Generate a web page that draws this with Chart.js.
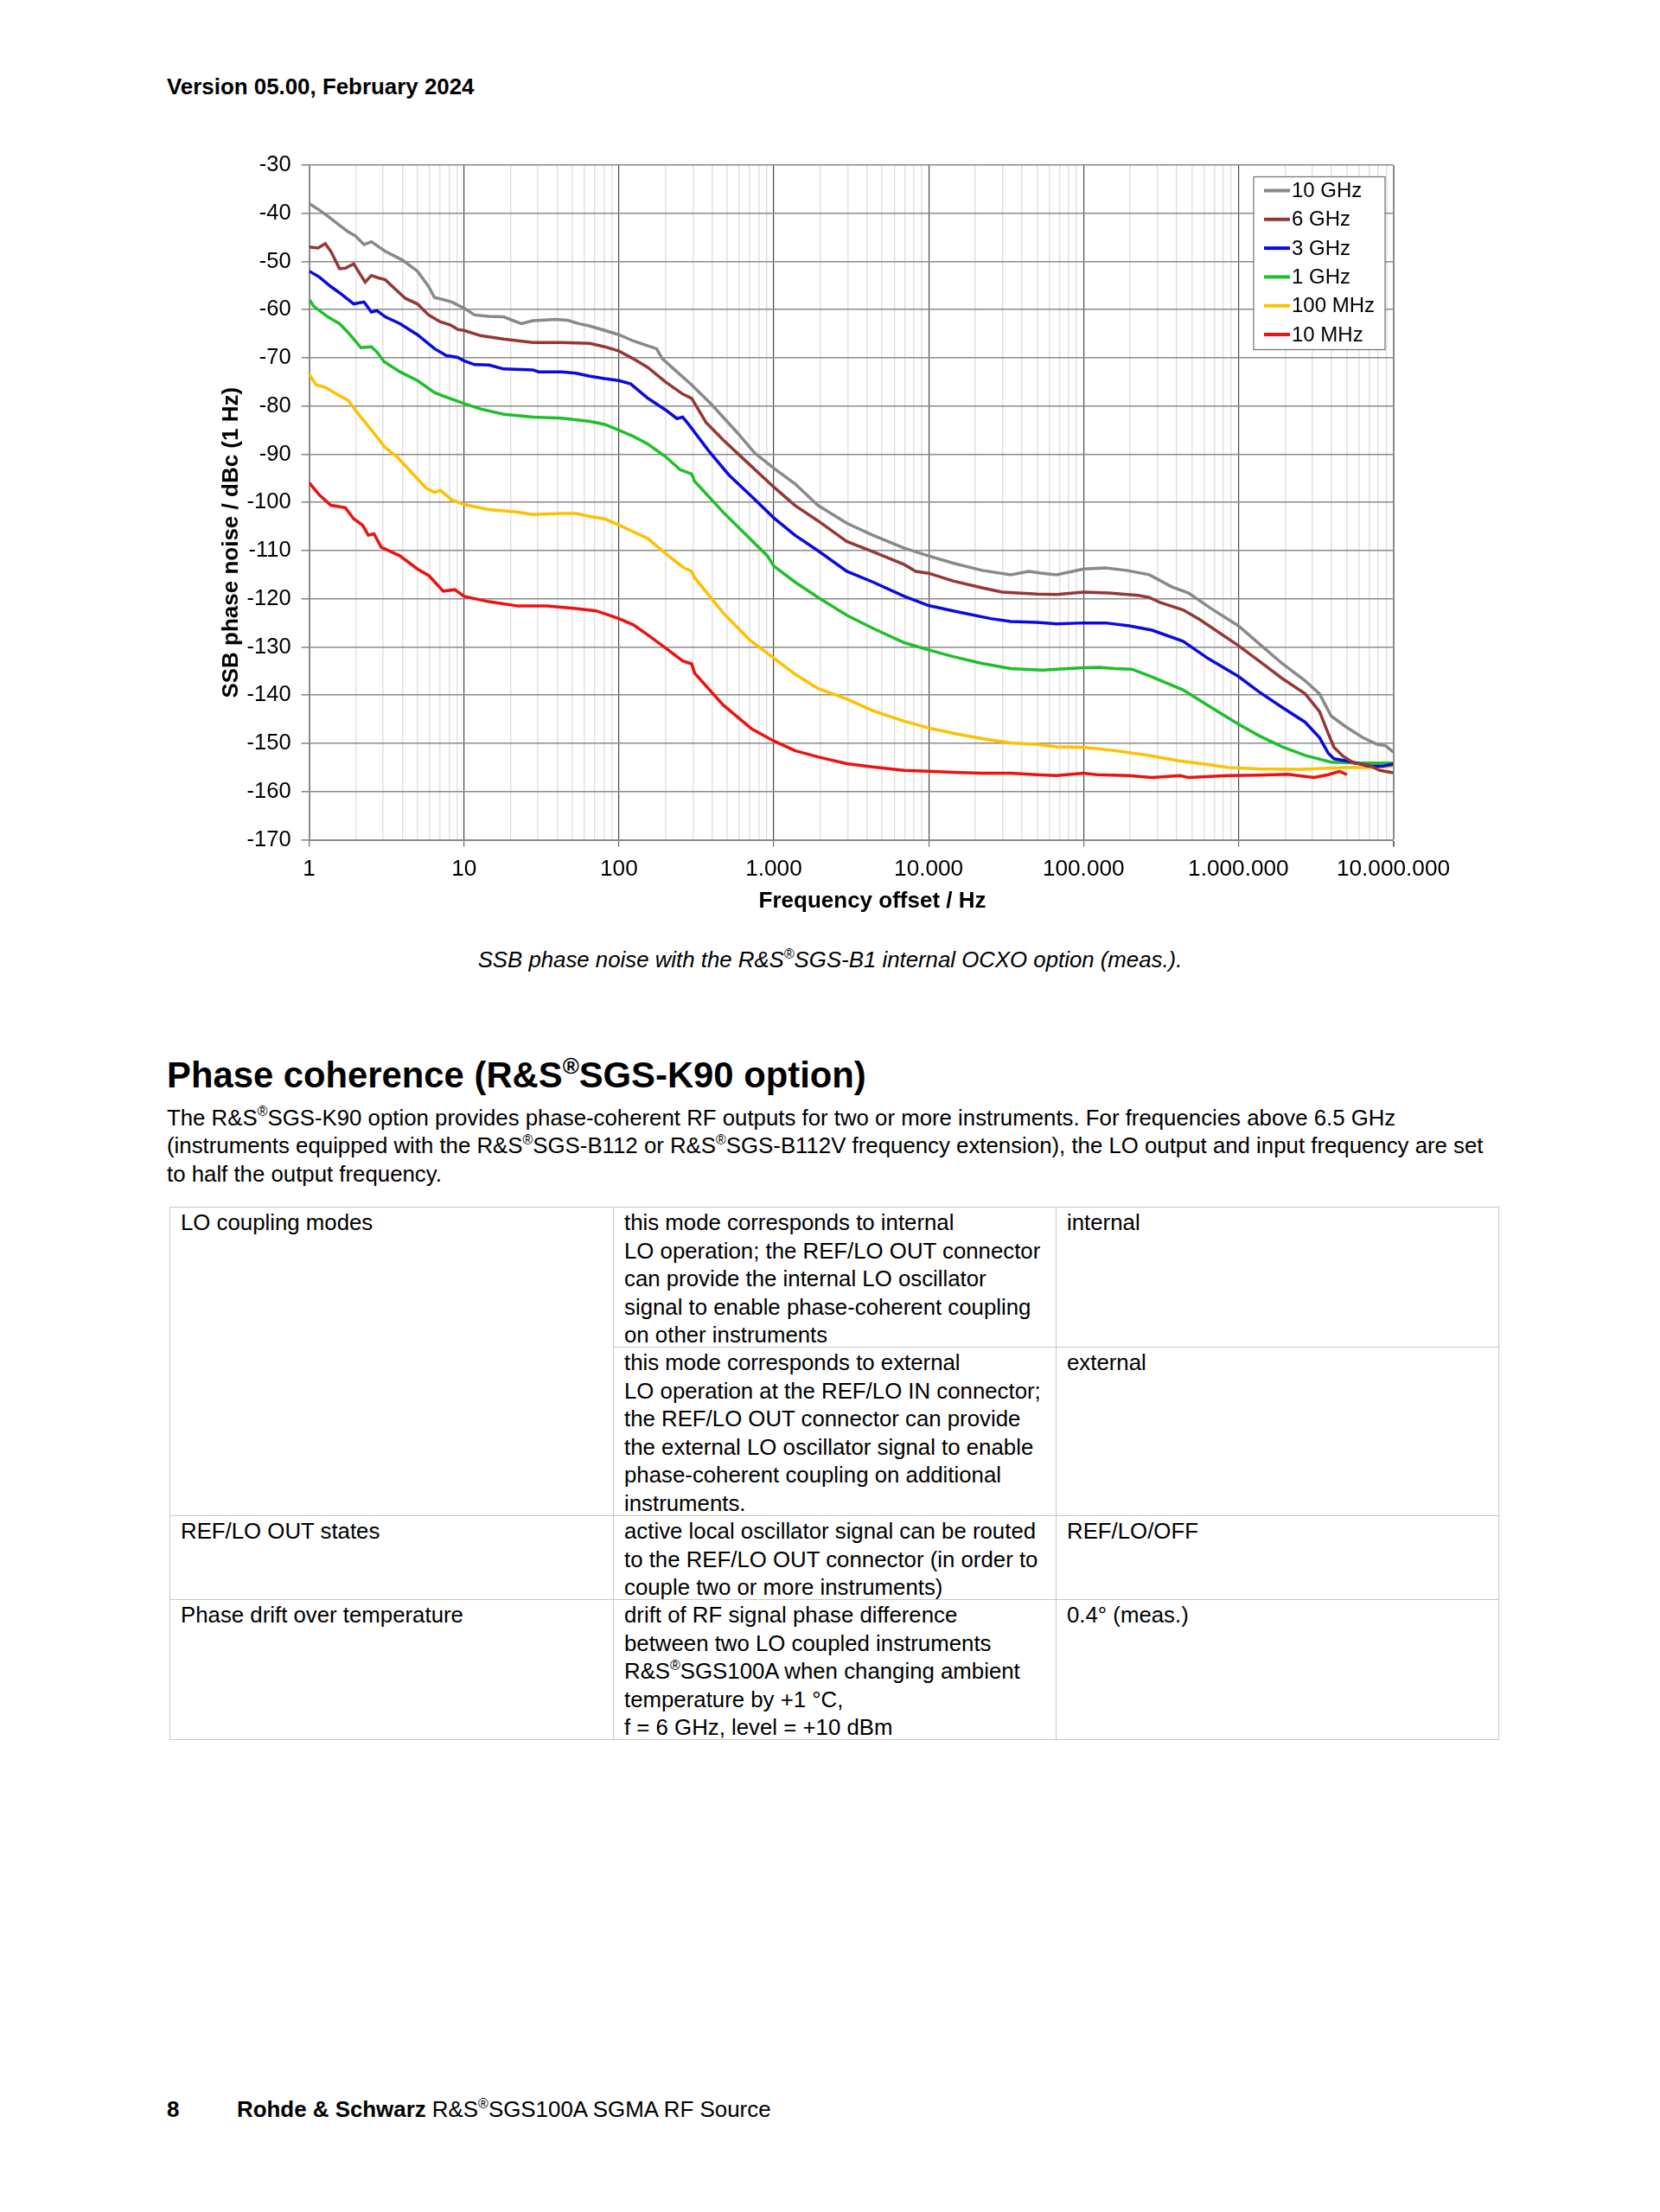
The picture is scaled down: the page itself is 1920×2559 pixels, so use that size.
<!DOCTYPE html>
<html>
<head>
<meta charset="utf-8">
<script src="https://cdn.jsdelivr.net/npm/chart.js@4.4.1/dist/chart.umd.min.js"></script>
<style>
html,body{margin:0;padding:0;background:#fff;}
body{width:1920px;height:2559px;position:relative;font-family:"Liberation Sans",Arial,sans-serif;color:#000;overflow:hidden;}
.abs{position:absolute;white-space:nowrap;}
sup{font-size:0.62em;line-height:0;position:relative;top:-0.05em;vertical-align:super;}
#chartBox{position:absolute;left:230px;top:150px;width:1470px;height:920px;}
.tbl{position:absolute;left:196px;top:1396px;width:1538px;height:617px;border-top:1px solid #c8c8c8;border-left:1px solid #c8c8c8;box-sizing:border-box;}
.cell{position:absolute;box-sizing:border-box;border-right:1px solid #c8c8c8;border-bottom:1px solid #c8c8c8;padding:1px 0 0 12px;font-size:25.8px;line-height:32.6px;white-space:nowrap;}
</style>
</head>
<body>
<div class="abs" style="left:193px;top:87.5px;font-size:25.9px;line-height:25.9px;font-weight:bold;">Version 05.00, February 2024</div>

<div id="chartBox"><canvas id="c"></canvas></div>

<div class="abs" style="left:0;width:1920px;text-align:center;top:1098px;font-size:25.8px;line-height:25.8px;font-style:italic;">SSB phase noise with the R&amp;S<sup>®</sup>SGS-B1 internal OCXO option (meas.).</div>

<div class="abs" style="left:193px;top:1223px;font-size:41.8px;line-height:41.8px;font-weight:bold;">Phase coherence (R&amp;S<sup>®</sup>SGS-K90 option)</div>

<div class="abs" style="left:193px;top:1276.5px;font-size:25.8px;line-height:32.6px;">The R&amp;S<sup>®</sup>SGS-K90 option provides phase-coherent RF outputs for two or more instruments. For frequencies above 6.5 GHz<br>(instruments equipped with the R&amp;S<sup>®</sup>SGS-B112 or R&amp;S<sup>®</sup>SGS-B112V frequency extension), the LO output and input frequency are set<br>to half the output frequency.</div>

<div class="tbl">
  <div class="cell" style="left:0;top:0;width:513px;height:357px;">LO coupling modes</div>
  <div class="cell" style="left:513px;top:0;width:512px;height:162px;">this mode corresponds to internal<br>LO operation; the REF/LO OUT connector<br>can provide the internal LO oscillator<br>signal to enable phase-coherent coupling<br>on other instruments</div>
  <div class="cell" style="left:1025px;top:0;width:512px;height:162px;">internal</div>
  <div class="cell" style="left:513px;top:162px;width:512px;height:195px;">this mode corresponds to external<br>LO operation at the REF/LO IN connector;<br>the REF/LO OUT connector can provide<br>the external LO oscillator signal to enable<br>phase-coherent coupling on additional<br>instruments.</div>
  <div class="cell" style="left:1025px;top:162px;width:512px;height:195px;">external</div>
  <div class="cell" style="left:0;top:357px;width:513px;height:97px;">REF/LO OUT states</div>
  <div class="cell" style="left:513px;top:357px;width:512px;height:97px;">active local oscillator signal can be routed<br>to the REF/LO OUT connector (in order to<br>couple two or more instruments)</div>
  <div class="cell" style="left:1025px;top:357px;width:512px;height:97px;">REF/LO/OFF</div>
  <div class="cell" style="left:0;top:454px;width:513px;height:162px;">Phase drift over temperature</div>
  <div class="cell" style="left:513px;top:454px;width:512px;height:162px;">drift of RF signal phase difference<br>between two LO coupled instruments<br>R&amp;S<sup>®</sup>SGS100A when changing ambient<br>temperature by +1 °C,<br>f = 6 GHz, level = +10 dBm</div>
  <div class="cell" style="left:1025px;top:454px;width:512px;height:162px;">0.4° (meas.)</div>
</div>

<div class="abs" style="left:193px;top:2428px;font-size:25.9px;line-height:25.9px;font-weight:bold;">8</div>
<div class="abs" style="left:274px;top:2428px;font-size:25.9px;line-height:25.9px;"><b>Rohde &amp; Schwarz</b> R&amp;S<sup>®</sup>SGS100A SGMA RF Source</div>

<script>
// ---------- data ----------
const seriesLabels = ['10 GHz','6 GHz','3 GHz','1 GHz','100 MHz','10 MHz'];
const seriesColors = ['#898989','#953735','#0a0ae0','#1fbf2a','#ffc000','#ee1111'];

const xTickLabels = ['1','10','100','1.000','10.000','100.000','1.000.000','10.000.000'];
const xMajorTicks = [1,10,100,1000,10000,100000,1000000,10000000];
const xMinorSteps = [2,3,4,5,6,7,8,9];
const yMin = -170, yMax = -30, yStep = 10;

const freq10G = [1,1.16,1.32,1.57,1.78,1.99,2.26,2.52,3.1,4.0,5.0,5.9,6.45,7.3,8.35,10,11.7,14.5,18,23.4,27.8,39,46.5,55,65,81,100,124,154,175,191,237,295,397,584,751,1000,1368,1926,2960,4350,6960,10000,14400,22100,33900,44200,54400,67000,100000,139000,189000,266000,371000,477000,665000,1000000,1359000,1914000,2697000,3340000,3970000,4910000,6350000,7870000,8950000,10000000];
const val10G  = [-38,-39.3,-40.6,-42.5,-43.8,-44.7,-46.5,-45.9,-47.9,-49.7,-52,-55.2,-57.5,-57.9,-58.4,-59.7,-61.1,-61.4,-61.5,-62.9,-62.3,-62,-62.2,-62.9,-63.4,-64.3,-65.2,-66.5,-67.5,-68.1,-70.2,-72.9,-75.6,-79.7,-85.6,-89.7,-92.9,-96.1,-100.6,-104.3,-106.8,-109.5,-111.1,-112.6,-114.1,-115,-114.3,-114.7,-115,-113.8,-113.6,-114.1,-115,-117.5,-118.8,-122,-125.6,-129.3,-133.4,-137,-139.7,-144.3,-146.5,-148.8,-150.2,-150.5,-151.8];

const freq6G = [1,1.14,1.27,1.38,1.57,1.71,1.94,2.12,2.3,2.52,2.8,3.1,3.7,4.2,5.0,5.9,7.0,8.2,9.1,10,12.8,18,27.8,42.7,65,81,100,124,154,200,258,295,365,470,664,1000,1368,1926,2960,4350,6960,8260,10000,14400,22100,29800,50000,67000,100000,145000,225000,266000,314000,439000,563000,1000000,1359000,1914000,2697000,3340000,3800000,4140000,4710000,5580000,6920000,8210000,10000000];
const val6G  = [-47,-47.2,-46.3,-47.9,-51.5,-51.4,-50.5,-52.5,-54.3,-52.9,-53.4,-53.8,-56.1,-57.7,-58.8,-61.1,-62.5,-63.2,-64.1,-64.3,-65.4,-66.1,-66.8,-66.8,-67,-67.7,-68.6,-70.2,-72,-75,-77.5,-78.4,-83.4,-87,-91.5,-96.8,-100.6,-103.8,-108.1,-110.2,-112.9,-114.3,-114.7,-116.3,-117.7,-118.6,-119,-119.1,-118.6,-118.8,-119.3,-119.7,-120.8,-122.3,-124.3,-129.7,-132.9,-136.5,-139.7,-143.4,-147.9,-150.8,-152.6,-154.1,-154.5,-155.6,-156.1];

const freq3G = [1,1.16,1.38,1.57,1.94,2.26,2.52,2.74,3.1,3.86,5.0,6.45,7.67,9.1,10,11.7,14.5,18,27.8,30.3,42.7,52.8,65,81,100,119,154,200,237,258,282,380,513,721,1000,1368,1926,2960,4350,6960,10000,14400,25100,33900,50000,67000,100000,139000,197000,277000,439000,638000,1000000,1359000,1914000,2697000,3340000,3800000,4140000,5350000,6920000,8570000,10000000];
const val3G  = [-52,-53.2,-55.2,-56.5,-58.8,-58.4,-60.5,-60.2,-61.5,-62.9,-65.2,-68.1,-69.5,-69.9,-70.6,-71.4,-71.5,-72.3,-72.5,-72.9,-72.9,-73.2,-73.8,-74.3,-74.7,-75.4,-78.4,-80.8,-82.6,-82.3,-83.8,-89.3,-94.3,-98.8,-103.2,-106.8,-110,-114.3,-116.5,-119.5,-121.4,-122.5,-124.1,-124.7,-124.9,-125.2,-125,-125,-125.6,-126.5,-128.8,-132.4,-136.1,-139.3,-142.5,-145.6,-148.8,-152,-153.2,-153.8,-154.7,-154.7,-154.3];

const freq1G = [1,1.07,1.32,1.57,1.78,2.16,2.52,2.74,3.05,3.86,5.0,6.45,7.34,10,12.8,18,27.8,42.7,65,81,100,124,154,200,248,295,308,470,721,910,1000,1368,1926,2960,4350,6960,10000,14400,22100,33900,54400,67000,100000,127000,159000,205000,266000,439000,665000,1000000,1359000,1914000,2697000,3970000,6080000,10000000];
const val1G  = [-57.9,-59.3,-61.5,-62.9,-64.7,-67.9,-67.7,-68.8,-70.8,-72.9,-74.7,-77.2,-77.9,-79.5,-80.6,-81.7,-82.3,-82.5,-83.2,-83.8,-85,-86.3,-87.9,-90.5,-93.2,-94.1,-95.6,-102,-107.9,-111.1,-113.2,-116.5,-119.7,-123.4,-126.1,-129.1,-130.6,-132,-133.4,-134.5,-134.8,-134.6,-134.3,-134.2,-134.5,-134.6,-136,-138.9,-142.5,-146,-148.4,-150.7,-152.5,-153.9,-154.1,-154.1];

const freq100M = [1,1.11,1.27,1.5,1.78,2.12,2.62,3.05,3.7,4.59,5.68,6.45,7.04,8.35,10,14.5,22.4,27.8,42.7,52.8,65,81,100,124,154,200,258,295,308,470,692,1000,1368,1926,2960,4350,6960,10000,14400,22100,33900,50000,67000,100000,159000,266000,404000,612000,854000,1359000,2584000,4910000,7540000,10000000];
const val100M  = [-73.4,-75.6,-76.1,-77.5,-78.8,-82,-85.6,-88.4,-90.6,-93.8,-97,-97.9,-97.5,-99.5,-100.4,-101.5,-102,-102.5,-102.3,-102.3,-102.9,-103.4,-104.7,-106.1,-107.5,-110.6,-113.4,-114.3,-115.6,-122.9,-128.4,-132.3,-135.6,-138.6,-140.8,-143.2,-145.4,-146.8,-147.9,-149,-149.9,-150.2,-150.7,-150.8,-151.5,-152.5,-153.6,-154.3,-155,-155.3,-155.4,-155,-155,-154.7];

const freq10M = [1,1.16,1.38,1.71,1.94,2.21,2.41,2.62,2.92,3.86,5.0,5.93,7.34,8.72,10,14.5,22.4,34.4,52.8,71.3,100,124,154,200,258,295,308,470,721,1000,1368,1926,2960,4350,6960,10000,14400,22100,33900,50000,67000,100000,122000,197000,277000,421000,477000,854000,1359000,2086000,3066000,3800000,4510000,5020000];
const val10M  = [-95.9,-98.4,-100.6,-101.1,-103.4,-104.7,-106.8,-106.5,-109.3,-111.1,-113.8,-115.2,-118.4,-118.1,-119.5,-120.6,-121.5,-121.5,-122,-122.5,-124.1,-125.4,-127.5,-130.2,-132.9,-133.5,-135.4,-142,-147,-149.5,-151.5,-152.8,-154.2,-154.9,-155.6,-155.8,-156,-156.2,-156.2,-156.5,-156.7,-156.2,-156.5,-156.7,-157.1,-156.7,-157.1,-156.7,-156.6,-156.4,-157.1,-156.5,-155.8,-156.5];

const seriesFreqs = [freq10G, freq6G, freq3G, freq1G, freq100M, freq10M];
const seriesValues = [val10G, val6G, val3G, val1G, val100M, val10M];

// ---------- chart ----------
const FONT = "'Liberation Sans', Arial, sans-serif";

const datasets = seriesLabels.map((lab, i) => ({
  label: lab,
  data: seriesFreqs[i].map((f, j) => ({x: f, y: seriesValues[i][j]})),
  borderColor: seriesColors[i],
  backgroundColor: seriesColors[i],
  borderWidth: 3.5,
  pointRadius: 0,
  tension: 0,
  fill: false
}));

const legendBox = {
  id: 'legendBox',
  afterDatasetsDraw(chart) {
    const {ctx, chartArea} = chart;
    const w = 152, h = 200;
    const x0 = chartArea.right - 9.5 - w, y0 = chartArea.top + 13.5;
    ctx.save();
    ctx.fillStyle = '#fff';
    ctx.fillRect(x0, y0, w, h);
    ctx.strokeStyle = '#7a7a7a';
    ctx.lineWidth = 1.3;
    ctx.strokeRect(x0, y0, w, h);
    ctx.font = '24px ' + FONT;
    ctx.textBaseline = 'middle';
    chart.data.datasets.forEach((ds, i) => {
      const cy = y0 + 16 + i * 33.3;
      ctx.strokeStyle = ds.borderColor;
      ctx.lineWidth = 4;
      ctx.beginPath();
      ctx.moveTo(x0 + 12, cy);
      ctx.lineTo(x0 + 42, cy);
      ctx.stroke();
      ctx.fillStyle = '#000';
      ctx.fillText(ds.label, x0 + 44, cy + 1);
    });
    ctx.restore();
  }
};

const axisTitles = {
  id: 'axisTitles',
  afterDraw(chart) {
    const {ctx, chartArea} = chart;
    ctx.save();
    ctx.fillStyle = '#000';
    ctx.font = 'bold 26px ' + FONT;
    ctx.textAlign = 'center';
    ctx.textBaseline = 'middle';
    const cx = (chartArea.left + chartArea.right) / 2;
    const cy = (chartArea.top + chartArea.bottom) / 2;
    ctx.fillText('Frequency offset / Hz', cx + 24.5, chartArea.bottom + 71);
    ctx.translate(chartArea.left - 89.5, cy + 46.5);
    ctx.rotate(-Math.PI / 2);
    ctx.fillText('SSB phase noise / dBc (1 Hz)', 0, 0);
    ctx.restore();
  }
};

const isMajor = v => xMajorTicks.indexOf(v) >= 0;

new Chart(document.getElementById('c'), {
  type: 'line',
  data: {datasets},
  plugins: [legendBox, axisTitles],
  options: {
    responsive: true,
    maintainAspectRatio: false,
    animation: false,
    devicePixelRatio: 1,
    layout: {padding: {left: 0, top: 41, right: 88.5, bottom: 0}},
    plugins: {legend: {display: false}, tooltip: {enabled: false}},
    scales: {
      x: {
        type: 'logarithmic',
        min: xMajorTicks[0],
        max: xMajorTicks[xMajorTicks.length - 1],
        afterBuildTicks(scale) {
          const t = [];
          xMajorTicks.forEach((m, i) => {
            t.push({value: m, major: true});
            if (i < xMajorTicks.length - 1) xMinorSteps.forEach(s => t.push({value: m * s, major: false}));
          });
          scale.ticks = t;
        },
        afterFit(scale) { scale.height = 98.5; },
        ticks: {
          autoSkip: false,
          maxRotation: 0,
          minRotation: 0,
          padding: 11,
          color: '#000',
          font: {family: FONT, size: 26.2},
          callback(value) {
            const k = xMajorTicks.indexOf(value);
            return k >= 0 ? xTickLabels[k] : '';
          }
        },
        grid: {
          drawTicks: true,
          tickLength: 8,
          color: ctx => {
            const v = ctx.tick ? ctx.tick.value : 0;
            if (v === xMajorTicks[xMajorTicks.length - 1]) return '#8a8a8a';
            return isMajor(v) ? '#4a4a4a' : '#e2e2e2';
          },
          lineWidth: ctx => {
            const v = ctx.tick ? ctx.tick.value : 0;
            if (v === xMajorTicks[xMajorTicks.length - 1]) return 2;
            return isMajor(v) ? 1.2 : 1.5;
          },
          tickColor: ctx => {
            const v = ctx.tick ? ctx.tick.value : 0;
            return isMajor(v) ? '#6a6a6a' : 'rgba(0,0,0,0)';
          }
        },
        border: {display: true, color: '#8a8a8a', width: 2}
      },
      y: {
        type: 'linear',
        min: yMin,
        max: yMax,
        afterFit(scale) { scale.width = 127.6; },
        ticks: {
          stepSize: yStep,
          padding: 12,
          color: '#000',
          font: {family: FONT, size: 25.5}
        },
        grid: {
          drawTicks: true,
          tickLength: 9,
          color: '#8a8a8a',
          lineWidth: 1.6,
          tickColor: '#8a8a8a'
        },
        border: {display: true, color: '#8a8a8a', width: 2}
      }
    }
  }
});
</script>
</body>
</html>
